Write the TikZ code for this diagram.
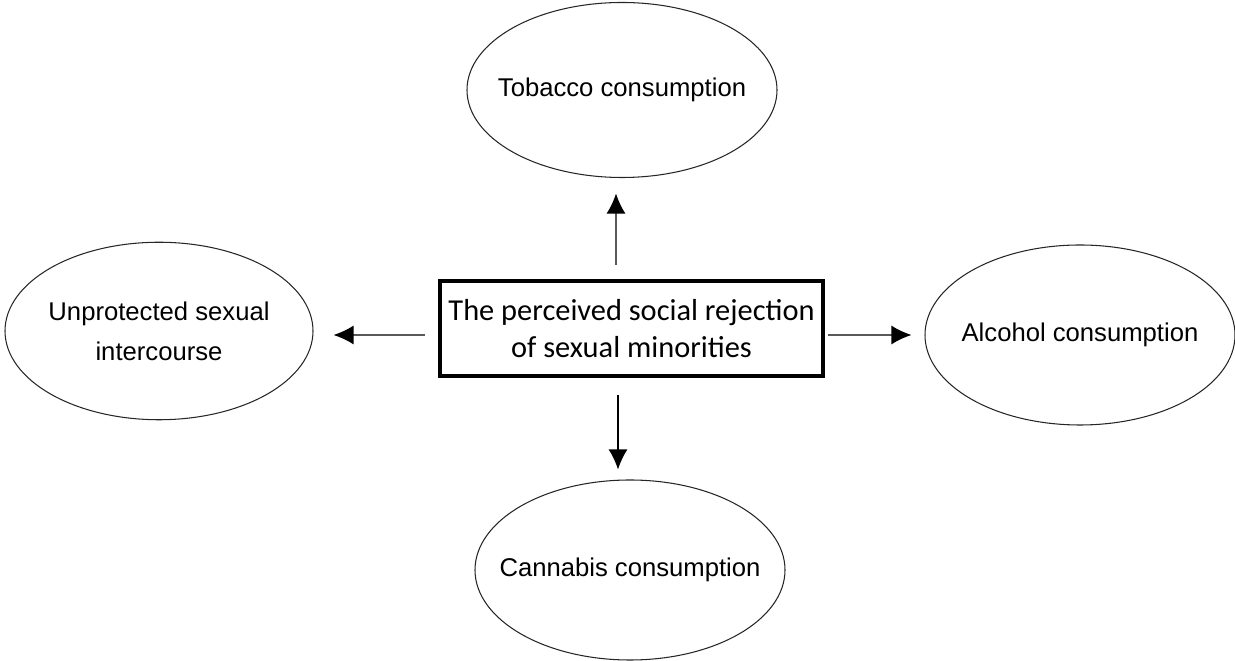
\documentclass[tikz,border=0pt]{standalone}
\usepackage{fontspec}
\setmainfont{Liberation Sans}
\newfontfamily\calibfont{Carlito}
\usetikzlibrary{shapes.geometric,arrows.meta}
\newcommand{\zw}[1]{\makebox[0pt][c]{#1}}
\begin{document}
\begin{tikzpicture}[
  outcome/.style={draw=black!85, line width=0.6pt, ellipse, inner sep=0pt, minimum width=6.2cm, minimum height=3.55cm, align=center, font=\fontsize{14.6}{22.7}\selectfont},
  arr/.style={-{Latex[length=0.4cm,width=0.38cm]}, line width=0.8pt}]
  \useasboundingbox (0,0) rectangle (24.7,13.22);
  \node[draw, line width=2.3pt, minimum width=7.66cm, minimum height=1.9cm, inner sep=0pt, align=center, font=\calibfont\fontsize{17.3}{21}\selectfont] (rej) at (12.63,6.65) {The perceived social rejection\\of sexual minorities};
  \node[outcome, minimum height=3.5cm] (tob) at (12.44,11.42) {\zw{Tobacco consumption}};
  \node[outcome, minimum width=6.16cm] (sex) at (3.18,6.6) {\zw{Unprotected sexual}\\\zw{intercourse}};
  \node[outcome, minimum height=3.6cm] (alc) at (21.6,6.52) {\zw{Alcohol consumption}};
  \node[outcome, minimum height=3.6cm] (can) at (12.6,1.82) {\zw{Cannabis consumption}};
  \draw[arr] ([xshift=-0.31cm,yshift=0.28cm]rej.north) -- ([xshift=-0.12cm,yshift=-0.31cm]tob.south);
  \draw[arr] ([xshift=-0.27cm,yshift=-0.34cm]rej.south) -- ([xshift=-0.24cm,yshift=0.2cm]can.north);
  \draw[arr] ([xshift=-0.26cm,yshift=-0.13cm]rej.west) -- ([xshift=0.4cm,yshift=-0.08cm]sex.east);
  \draw[arr] ([xshift=0.06cm,yshift=-0.13cm]rej.east) -- ([xshift=-0.26cm]alc.west);
\end{tikzpicture}
\end{document}
